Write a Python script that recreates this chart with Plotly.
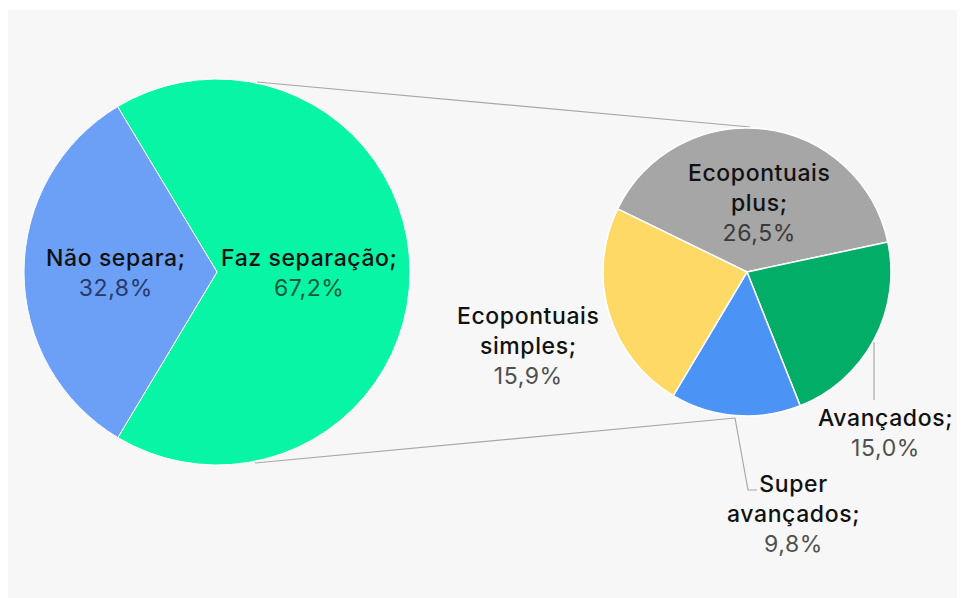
import plotly.graph_objects as go

# ---- data ----
main_labels = ["Faz separação", "Não separa"]
main_values = [67.2, 32.8]
main_colors = ["#07F5A5", "#6CA0F7"]

sub_labels = ["Ecopontuais plus", "Avançados", "Super avançados", "Ecopontuais simples"]
sub_values = [26.5, 15.0, 9.8, 15.9]
sub_colors = ["#A6A6A6", "#02AE67", "#4C93F6", "#FED966"]

W, H = 965, 598
OFF = 8  # page body margin offset
FW, FH = W - OFF, H - OFF


def px(x):
    return (x - OFF) / FW


def py(y):
    return 1 - (y - OFF) / FH


def fmt(v):
    return f"{v:.1f}".replace(".", ",") + "%"


fig = go.Figure()

fig.add_trace(go.Pie(
    labels=main_labels, values=main_values, sort=False, direction="clockwise",
    rotation=-31, textinfo="none", hoverinfo="label+value",
    marker=dict(colors=main_colors, line=dict(color="#FFFFFF", width=1)),
    domain=dict(x=[px(24), px(410)], y=[py(465), py(79)]),
    showlegend=False,
))

fig.add_trace(go.Pie(
    labels=sub_labels, values=sub_values, sort=False, direction="clockwise",
    rotation=-64, textinfo="none", hoverinfo="label+value",
    marker=dict(colors=sub_colors, line=dict(color="#FFFFFF", width=1.5)),
    domain=dict(x=[px(603), px(891)], y=[py(416), py(128)]),
    showlegend=False,
))

# label layout: (label, value, x, y, wrap, value_color)
label_layout = [
    (main_labels[1], main_values[1], 116, 273, False, "#27386A"),
    (main_labels[0], main_values[0], 309, 273, False, "#0E5A3C"),
    (sub_labels[0], sub_values[0], 759, 203, True, "#3A3A3A"),
    (sub_labels[3], sub_values[3], 528, 346, True, "#505050"),
    (sub_labels[1], sub_values[1], 885, 433, False, "#505050"),
    (sub_labels[2], sub_values[2], 793, 514, True, "#505050"),
]

annotations = []
for name, val, x, y, wrap, vcol in label_layout:
    nm = name.replace(" ", "<br>", 1) if wrap else name
    parts = nm.split("<br>")
    name_html = "<br>".join(
        f"<span style='font-weight:500;letter-spacing:0.6px'>{p}{';' if i == len(parts) - 1 else ''}</span>"
        for i, p in enumerate(parts)
    )
    text = f"{name_html}<br><span style='color:{vcol};letter-spacing:0.6px'>{fmt(val)}</span>"
    annotations.append(dict(
        x=px(x), y=py(y), xref="paper", yref="paper", text=text, showarrow=False,
        align="center", xanchor="center", yanchor="middle",
        font=dict(family="Inter, Roboto, sans-serif", size=23, color="#111111"),
    ))

line_style = dict(color="#A8A8A8", width=1.2)
shapes = [
    dict(type="rect", xref="paper", yref="paper", x0=0, x1=1, y0=0, y1=py(10),
         fillcolor="#F7F7F7", line=dict(width=0), layer="below"),
    # connector lines between pies
    dict(type="line", xref="paper", yref="paper", x0=px(257), y0=py(82), x1=px(750), y1=py(127),
         line=line_style, layer="below"),
    dict(type="line", xref="paper", yref="paper", x0=px(255), y0=py(463), x1=px(735), y1=py(418),
         line=line_style, layer="below"),
    # leader: Avançados
    dict(type="line", xref="paper", yref="paper", x0=px(874), y0=py(342), x1=px(874), y1=py(400),
         line=line_style, layer="below"),
    # leader: Super avançados
    dict(type="path", xref="paper", yref="paper",
         path=f"M {px(735)},{py(418)} L {px(748)},{py(490)} L {px(757)},{py(490)}",
         line=line_style, layer="below"),
]

fig.update_layout(
    width=FW, height=FH, margin=dict(l=0, r=0, t=0, b=0),
    paper_bgcolor="#FFFFFF", plot_bgcolor="#FFFFFF",
    annotations=annotations, shapes=shapes,
    font=dict(family="Inter, Roboto, sans-serif"),
)

fig.write_html("out.html")
